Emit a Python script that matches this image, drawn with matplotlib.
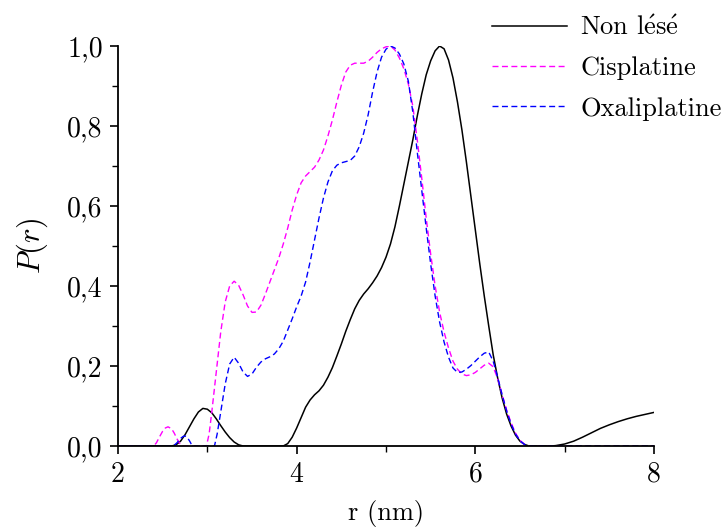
import numpy as np
import matplotlib
matplotlib.use('Agg')
import matplotlib.pyplot as plt
from matplotlib.ticker import MultipleLocator, FuncFormatter

# distributions P(r)
r_non_lese = [2.0, 2.6, 2.65, 2.7, 2.75, 2.8, 2.85, 2.9, 2.95, 3.0, 3.05, 3.1, 3.15, 3.2, 3.25, 3.3, 3.35, 3.4,
              3.85, 3.9, 3.95, 4.0, 4.05, 4.1, 4.15, 4.2, 4.25, 4.3, 4.35, 4.4, 4.45, 4.5, 4.55, 4.6, 4.65, 4.7,
              4.75, 4.8, 4.85, 4.9, 4.95, 5.0, 5.05, 5.1, 5.15, 5.2, 5.25, 5.3, 5.35, 5.4, 5.45, 5.5, 5.55, 5.6,
              5.65, 5.7, 5.75, 5.8, 5.85, 5.9, 5.95, 6.0, 6.05, 6.1, 6.15, 6.2, 6.25, 6.3, 6.35, 6.4, 6.45, 6.5,
              6.55, 6.6, 6.85, 6.9, 7.0, 7.1, 7.2, 7.3, 7.4, 7.5, 7.6, 7.7, 7.8, 7.9, 8.0]
p_non_lese = [0, 0, 0.003, 0.012, 0.028, 0.048, 0.068, 0.085, 0.094, 0.092, 0.083, 0.068, 0.051, 0.035, 0.021, 0.010, 0.003, 0,
              0, 0.006, 0.022, 0.045, 0.071, 0.097, 0.115, 0.128, 0.138, 0.152, 0.172, 0.196, 0.225, 0.255, 0.287, 0.316, 0.343, 0.364,
              0.38, 0.393, 0.408, 0.425, 0.446, 0.472, 0.505, 0.548, 0.60, 0.655, 0.71, 0.765, 0.825, 0.88, 0.928, 0.963, 0.988, 1.0,
              0.993, 0.965, 0.92, 0.86, 0.79, 0.71, 0.625, 0.54, 0.455, 0.375, 0.30, 0.228, 0.17, 0.12, 0.08, 0.05, 0.027, 0.012,
              0.004, 0, 0, 0.001, 0.005, 0.012, 0.022, 0.033, 0.044, 0.053, 0.061, 0.068, 0.074, 0.079, 0.084]

r_cis = [2.0, 2.4, 2.43, 2.47, 2.5, 2.53, 2.56, 2.6, 2.63, 2.66, 2.69, 2.72, 2.99, 3.02, 3.05, 3.1, 3.15, 3.2, 3.25, 3.3,
         3.35, 3.4, 3.45, 3.5, 3.55, 3.6, 3.65, 3.7, 3.75, 3.8, 3.85, 3.9, 3.95, 4.0, 4.05, 4.1, 4.15, 4.2, 4.25, 4.3,
         4.35, 4.4, 4.45, 4.5, 4.55, 4.6, 4.65, 4.7, 4.75, 4.8, 4.85, 4.9, 4.95, 5.0, 5.05, 5.1, 5.15, 5.2, 5.25, 5.3,
         5.35, 5.4, 5.45, 5.5, 5.55, 5.6, 5.65, 5.7, 5.75, 5.8, 5.85, 5.9, 5.95, 6.0, 6.05, 6.1, 6.15, 6.2, 6.25, 6.3,
         6.35, 6.4, 6.45, 6.5, 6.55, 6.6, 8.0]
p_cis = [0, 0, 0.008, 0.025, 0.037, 0.045, 0.048, 0.043, 0.032, 0.018, 0.007, 0, 0, 0.03, 0.085, 0.185, 0.285, 0.36, 0.40, 0.412,
         0.402, 0.378, 0.35, 0.334, 0.335, 0.352, 0.38, 0.41, 0.44, 0.47, 0.505, 0.545, 0.59, 0.628, 0.658, 0.675, 0.686, 0.697, 0.715, 0.74,
         0.775, 0.815, 0.86, 0.902, 0.935, 0.952, 0.957, 0.957, 0.957, 0.962, 0.972, 0.984, 0.993, 0.998, 1.0, 0.99, 0.97, 0.943, 0.905, 0.85,
         0.765, 0.67, 0.57, 0.48, 0.40, 0.335, 0.285, 0.245, 0.212, 0.192, 0.18, 0.176, 0.178, 0.184, 0.193, 0.202, 0.207, 0.198, 0.168, 0.128,
         0.09, 0.058, 0.032, 0.014, 0.004, 0, 0]

r_oxa = [2.0, 2.62, 2.66, 2.7, 2.73, 2.75, 2.77, 2.8, 2.82, 2.84, 3.08, 3.11, 3.15, 3.2, 3.25, 3.3, 3.35, 3.4, 3.45, 3.5,
         3.55, 3.6, 3.65, 3.7, 3.75, 3.8, 3.85, 3.9, 3.95, 4.0, 4.05, 4.1, 4.15, 4.2, 4.25, 4.3, 4.35, 4.4, 4.45, 4.5,
         4.55, 4.6, 4.65, 4.7, 4.75, 4.8, 4.85, 4.9, 4.95, 5.0, 5.05, 5.1, 5.15, 5.2, 5.25, 5.3, 5.35, 5.4, 5.45, 5.5,
         5.55, 5.6, 5.65, 5.7, 5.75, 5.8, 5.85, 5.9, 5.95, 6.0, 6.05, 6.1, 6.15, 6.2, 6.25, 6.3, 6.35, 6.4, 6.45, 6.5,
         6.55, 6.6, 8.0]
p_oxa = [0, 0, 0.008, 0.019, 0.024, 0.025, 0.023, 0.013, 0.005, 0, 0, 0.03, 0.085, 0.155, 0.205, 0.222, 0.207, 0.185, 0.174, 0.18,
         0.197, 0.21, 0.218, 0.223, 0.23, 0.243, 0.262, 0.29, 0.318, 0.348, 0.375, 0.41, 0.46, 0.515, 0.57, 0.62, 0.66, 0.688, 0.702, 0.708,
         0.711, 0.714, 0.725, 0.748, 0.782, 0.828, 0.885, 0.935, 0.972, 0.992, 1.0, 0.995, 0.98, 0.955, 0.912, 0.835, 0.735, 0.64, 0.545, 0.455,
         0.375, 0.31, 0.26, 0.222, 0.195, 0.184, 0.185, 0.192, 0.201, 0.212, 0.223, 0.232, 0.235, 0.212, 0.172, 0.128, 0.088, 0.055, 0.03, 0.013,
         0.004, 0, 0]

plt.rcParams['font.family'] = ['cmr10', 'DejaVu Serif']
plt.rcParams['mathtext.fontset'] = 'cm'
plt.rcParams['axes.unicode_minus'] = False

fig = plt.figure(figsize=(7.26, 5.29), dpi=100)
ax = fig.add_axes([118/726, 83/529, 536/726, 400/529])

ax.plot(r_non_lese, p_non_lese, color='black', lw=1.1, label=r'Non l$\acute{\mathrm{e}}$s$\acute{\mathrm{e}}$')
ax.plot(r_cis, p_cis, color='#ff00ff', lw=1.0, dashes=(4.3, 2.5), label='Cisplatine')
ax.plot(r_oxa, p_oxa, color='#0000ff', lw=1.0, dashes=(4.3, 2.5), label='Oxaliplatine')

ax.set_xlim(2, 8)
ax.set_ylim(0, 1.0)
ax.xaxis.set_major_locator(MultipleLocator(2))
ax.xaxis.set_minor_locator(MultipleLocator(1))
ax.yaxis.set_major_locator(MultipleLocator(0.2))
ax.yaxis.set_minor_locator(MultipleLocator(0.1))
ax.yaxis.set_major_formatter(FuncFormatter(lambda v, p: f'{v:.1f}'.replace('.', ',')))
ax.xaxis.set_major_formatter(FuncFormatter(lambda v, p: f'{v:.0f}'))

for s in ['top', 'right']:
    ax.spines[s].set_visible(False)
for s in ['left', 'bottom']:
    ax.spines[s].set_linewidth(1.3)
ax.tick_params(which='major', direction='out', length=6, width=1.2, labelsize=20, pad=5)
ax.tick_params(which='minor', direction='out', length=4, width=1.0)

ax.set_xlabel('r (nm)', fontsize=19, labelpad=9)
ax.set_ylabel('$P(r)$', fontsize=22, labelpad=12)

fig.legend(loc='upper left', bbox_to_anchor=(492/726, 1 - 16/529), frameon=False, fontsize=19,
           handlelength=2.85, handletextpad=0.5, labelspacing=0.62, borderpad=0, borderaxespad=0)

fig.savefig('out.png', dpi=100)
